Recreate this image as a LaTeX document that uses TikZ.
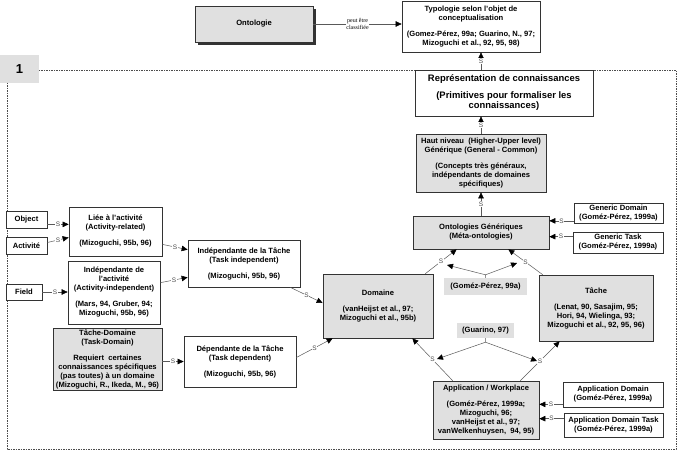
\documentclass[tikz,border=0pt]{standalone}
\usepackage{fontspec}
\setmainfont{Liberation Sans}
\newfontfamily\notefont{Liberation Serif}
\usetikzlibrary{arrows.meta,shadows,calc}
\tikzset{
  onto/.style={
    draw = black!80,
    line width = 0.7pt,
    fill = white,
    align = center,
    inner sep = 1pt,
    font = \fontsize{7.6}{9}\selectfont\bfseries
  },
  ontogray/.style={
    onto,
    fill = black!12
  },
  tag/.style={
    fill = black!12,
    inner sep = 1pt,
    font = \fontsize{7.6}{9}\selectfont\bfseries
  },
}
\tikzset{
  rel/.style={
    draw = black!65,
    line width = 0.5pt,
    -{Triangle[length=6pt,width=5.5pt,black]}
  },
  slabel/.style={
    fill = white,
    inner sep = 0.6pt,
    text = black!70,
    font = \fontsize{6.5}{6.5}\selectfont
  },
  note/.style={
    fill = white,
    align = center,
    inner sep = 0.5pt,
    font = \notefont\fontsize{6}{6.5}\selectfont
  },
  frame/.style={
    draw = black!70,
    line width = 0.5pt,
    dash pattern = on 1.5pt off 1pt
  }
}

\begin{document}
\begin{tikzpicture}[x=1pt, y=-1pt]
  \useasboundingbox (0,0) rectangle (680,451);
  \draw[frame] (7,70) rectangle (676,449);
  \node[tag, minimum width=39pt, minimum height=28pt, font=\fontsize{13}{13}\selectfont\bfseries] (one) at (19.5,69) {1};

  % top of the typology
  \node[ontogray, drop shadow={shadow xshift=3pt, shadow yshift=-3pt, fill=black!80, opacity=1},
        minimum width=118pt, minimum height=36pt] (onto) at (254,24) {Ontologie};
  \node[onto, minimum width=138pt, minimum height=51pt] (typo) at (471,26.5)
    {Typologie selon l'objet de\\conceptualisation\\[7pt](Gomez-Pérez, 99a; Guarino, N., 97;\\Mizoguchi et al., 92, 95, 98)};
  \node[onto, font=\fontsize{9.4}{10.5}\selectfont\bfseries, minimum width=178pt, minimum height=46pt] (rep) at (504,93)
    {Représentation de connaissances\\[6pt](Primitives pour formaliser les\\connaissances)};
  \node[ontogray, minimum width=130pt, minimum height=58pt] (haut) at (481,163)
    {Haut niveau~~(Higher-Upper level)\\Générique (General - Common)\\[7pt](Concepts très généraux,\\indépendants de domaines\\spécifiques)};
  \node[ontogray, minimum width=136pt, minimum height=33pt] (ogen) at (481,232.5)
    {Ontologies Génériques\\(Méta-ontologies)};
  \node[onto, minimum width=89pt, minimum height=20pt] (gdom) at (618.5,213.5) {Generic Domain\\(Goméz-Pérez, 1999a)};
  \node[onto, minimum width=90pt, minimum height=21pt] (gtask) at (618,242.5) {Generic Task\\(Goméz-Pérez, 1999a)};

  % middle
  \node[tag, minimum width=83pt, minimum height=17pt] (gomez) at (485.5,286.5) {(Goméz-Pérez, 99a)};
  \node[ontogray, minimum width=110pt, minimum height=64pt] (dom) at (378,306)
    {Domaine\\[7pt](vanHeijst et al., 97;\\Mizoguchi et al., 95b)};
  \node[ontogray, minimum width=114pt, minimum height=66pt] (tache) at (596,308)
    {Tâche\\[7pt](Lenat, 90, Sasajim, 95;\\Hori, 94, Wielinga, 93;\\Mizoguchi et al., 92, 95, 96)};
  \node[tag, minimum width=57pt, minimum height=15pt] (guar) at (485.5,330.5) {(Guarino, 97)};
  \node[ontogray, minimum width=106pt, minimum height=58pt] (app) at (486,410)
    {Application / Workplace\\[7pt](Goméz-Pérez, 1999a;\\Mizoguchi, 96;\\vanHeijst et al., 97;\\vanWelkenhuysen,~~94, 95)};
  \node[onto, minimum width=100pt, minimum height=25pt] (adom) at (613,394.5) {Application Domain\\(Goméz-Pérez, 1999a)};
  \node[onto, minimum width=99pt, minimum height=24pt] (adtask) at (613.5,425) {Application Domain Task\\(Goméz-Pérez, 1999a)};

  % left side
  \node[onto, minimum width=41pt, minimum height=17pt] (obj) at (26.5,219.5) {Object};
  \node[onto, minimum width=41pt, minimum height=17pt] (act) at (26.5,245.5) {Activité};
  \node[onto, minimum width=36pt, minimum height=16pt] (field) at (24,292) {Field};
  \node[onto, minimum width=93pt, minimum height=49pt] (liee) at (115.5,231.5)
    {Liée à l'activité\\(Activity-related)\\[7pt](Mizoguchi, 95b, 96)};
  \node[onto, minimum width=92pt, minimum height=63pt] (indact) at (114,292.5)
    {Indépendante de\\l'activité\\(Activity-independent)\\[7pt](Mars, 94, Gruber, 94;\\Mizoguchi, 95b, 96)};
  \node[ontogray, minimum width=109pt, minimum height=62pt] (tdom) at (107.5,359)
    {Tâche-Domaine\\(Task-Domain)\\[7pt]Requiert~~certaines\\connaissances spécifiques\\(pas toutes) à un domaine\\(Mizoguchi, R., Ikeda, M., 96)};
  \node[onto, minimum width=112pt, minimum height=47pt] (indt) at (244,263.5)
    {Indépendante de la Tâche\\(Task independent)\\[7pt](Mizoguchi, 95b, 96)};
  \node[onto, minimum width=112pt, minimum height=51pt] (dept) at (240,361.5)
    {Dépendante de la Tâche\\(Task dependent)\\[7pt](Mizoguchi, 95b, 96)};

  % connectors
  \draw[rel] (onto.east) -- node[note] {peut être\\classifiée} (onto.east -| typo.west);
  \draw[rel] (haut.north |- rep.north) -- node[slabel] {S} (haut.north |- typo.south);
  \draw[rel] (haut.north) -- node[slabel] {S} (haut.north |- rep.south);
  \draw[rel] (ogen.north) -- node[slabel] {S} (haut.south);

  \coordinate (gdomS) at ([yshift=3pt]gdom.south west);
  \coordinate (gtaskS) at ([yshift=-5pt]gtask.north west);
  \draw[rel] (gdomS) -- node[slabel] {S} (gdomS -| ogen.east);
  \draw[rel] (gtaskS) -- node[slabel] {S} (gtaskS -| ogen.east);

  \draw[rel] ([xshift=-8pt]dom.north east) -- node[slabel] {S} ([xshift=44pt]ogen.south west);
  \draw[rel] ([xshift=4pt]tache.north west) -- node[slabel] {S} ([xshift=-41pt]ogen.south east);

  \coordinate (gomezB) at ([yshift=3pt]gomez.north);
  \coordinate (gomezL) at (447,265);
  \coordinate (gomezR) at (517,263);
  \draw[rel] (gomez.north) -- (gomezB) -- (gomezL);
  \draw[rel] (gomezB) -- (gomezR);

  \coordinate (guarB) at ([yshift=-4pt]guar.south);
  \coordinate (guarL) at (437,359);
  \coordinate (guarR) at (537,361);
  \draw[rel] (guar.south) -- (guarB) -- (guarL);
  \draw[rel] (guarB) -- (guarR);

  \draw[rel] ([xshift=20pt]app.north west) -- node[slabel] {S} ([xshift=-21pt]dom.south east);
  \draw[rel] ([xshift=-19pt]app.north east) -- node[slabel] {S} ([xshift=21pt]tache.south west);

  \coordinate (adomS) at ([yshift=3pt]adom.south west);
  \coordinate (adtaskS) at ([yshift=-6pt]adtask.north west);
  \draw[rel] (adomS) -- node[slabel] {S} (adomS -| app.east);
  \draw[rel] (adtaskS) -- node[slabel] {S} (adtaskS -| app.east);

  \coordinate (objS) at ([yshift=4pt]obj.south east);
  \draw[rel] (objS) -- node[slabel] {S} (objS -| liee.west);
  \draw[rel] ([yshift=3pt]act.east) -- node[slabel] {S} ([yshift=-6pt]liee.west);
  \draw[rel] (field.east) -- node[slabel] {S} (field.east -| indact.west);
  \draw[rel] ([yshift=12pt]liee.south east) -- node[slabel] {S} ([yshift=-10pt]indt.north west);
  \draw[rel] ([yshift=-22pt]indact.north east) -- node[slabel] {S} ([yshift=10pt]indt.south west);
  \draw[rel] ([xshift=-10pt]indt.south east) -- node[slabel] {S} ([yshift=3pt]dom.west);
  \draw[rel] (dept.west -| tdom.east) -- node[slabel] {S} (dept.west);
  \draw[rel] ([yshift=4pt]dept.east) -- node[slabel] {S} ([xshift=10pt]dom.south west);
\end{tikzpicture}
\end{document}
